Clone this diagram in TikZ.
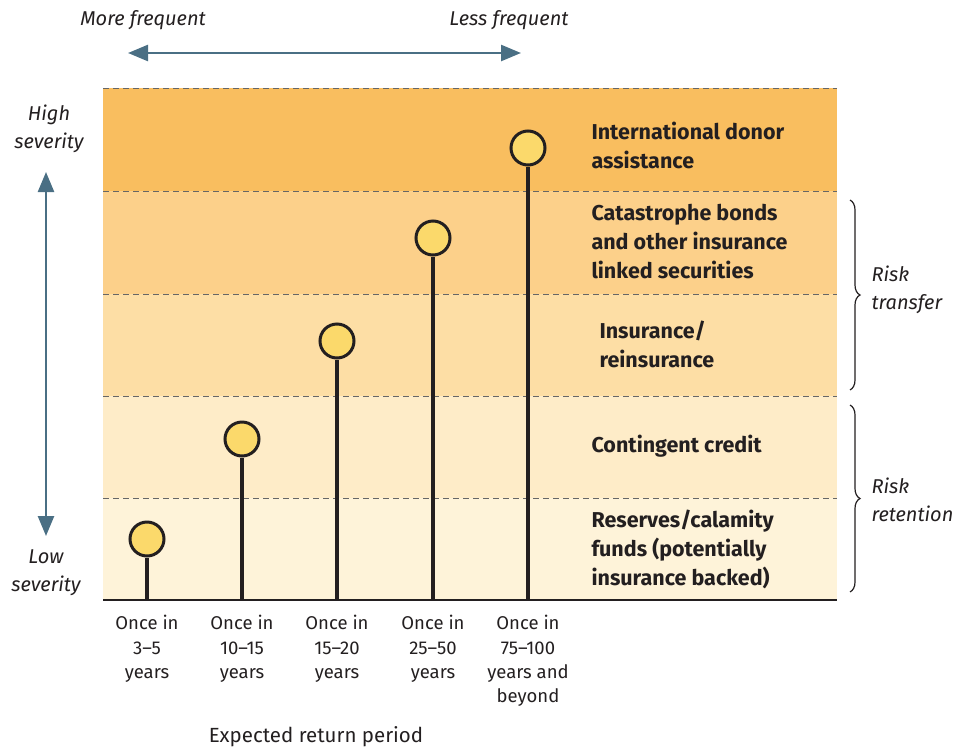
\documentclass[tikz,border=0pt]{standalone}
\usepackage{fontspec}
\setmainfont{Fira Sans}
\usetikzlibrary{arrows.meta,decorations.pathreplacing}
\definecolor{bandA}{RGB}{249,190,95}
\definecolor{bandB}{RGB}{252,208,138}
\definecolor{bandC}{RGB}{253,222,165}
\definecolor{bandD}{RGB}{254,236,200}
\definecolor{bandE}{RGB}{254,243,217}
\definecolor{ink}{RGB}{35,31,32}
\definecolor{bulbfill}{RGB}{251,217,107}
\definecolor{steel}{RGB}{74,111,132}
\tikzset{
	bandline/.style={draw=gray!80!black, dash pattern=on 6pt off 4pt, line width=0.8pt},
	stem/.style={draw=ink, line width=4pt},
	bulb/.style={circle, draw=ink, line width=3pt, fill=bulbfill, minimum size=34pt, inner sep=0pt},
	period/.style={align=center, anchor=north, text=ink, font=\fontsize{18.5}{24.3}\selectfont},
	tool/.style={align=left, anchor=west, text=ink, font=\bfseries\fontsize{21.5}{29}\selectfont},
	note/.style={align=left, text=ink, font=\itshape\fontsize{20}{28}\selectfont},
	axis/.style={draw=steel, line width=2.5pt, {Triangle[width=16pt,length=20pt]}-{Triangle[width=16pt,length=20pt]}},
	bracket/.style={draw=ink, line width=1.2pt, decorate, decoration={brace, amplitude=10pt}},
}
\begin{document}
\begin{tikzpicture}[x=1pt, y=-1pt]
	\useasboundingbox (0,0) rectangle (958,750);
	\fill[bandA] (103,88) rectangle (837,191);
	\fill[bandB] (103,191) rectangle (837,294);
	\fill[bandC] (103,294) rectangle (837,396);
	\fill[bandD] (103,396) rectangle (837,498);
	\fill[bandE] (103,498) rectangle (837,600);
	\draw[bandline] (103,88) -- (837,88);
	\draw[bandline] (103,191) -- (837,191);
	\draw[bandline] (103,294) -- (837,294);
	\draw[bandline] (103,396) -- (837,396);
	\draw[bandline] (103,498) -- (837,498);
	\coordinate (baseL) at (103,600);
	\coordinate (baseR) at (837,600);
	\draw[ink, line width=2pt] (baseL) -- (baseR);

	\node[bulb] (b1) at (147,539) {};
	\node[bulb] (b2) at (242,439) {};
	\node[bulb] (b3) at (337,341) {};
	\node[bulb] (b4) at (433,238) {};
	\node[bulb] (b5) at (528,148) {};
	\draw[stem] (b1.south) -- (b1 |- baseL);
	\draw[stem] (b2.south) -- (b2 |- baseL);
	\draw[stem] (b3.south) -- (b3 |- baseL);
	\draw[stem] (b4.south) -- (b4 |- baseL);
	\draw[stem] (b5.south) -- (b5 |- baseL);

	\node[period] (p1) at (147,612) {Once in\\3--5\\years};
	\node[period] (p2) at (242,612) {Once in\\10--15\\years};
	\node[period] (p3) at (337,612) {Once in\\15--20\\years};
	\node[period] (p4) at (433,612) {Once in\\25--50\\years};
	\node[period] (p5) at (528,612) {Once in\\75--100\\years and\\beyond};
	\node[period, anchor=center, font=\fontsize{20.5}{24}\selectfont] (xlabel) at (316,737) {Expected return period};

	\node[tool] (t5) at (588,145) {International donor\\assistance};
	\node[tool] (t4) at (588,242) {Catastrophe bonds\\and other insurance\\linked securities};
	\node[tool] (t3) at (596,344) {Insurance/\\reinsurance};
	\node[tool] (t2) at (588,446) {Contingent credit};
	\node[tool] (t1) at (588,549) {Reserves/calamity\\funds (potentially\\insurance backed)};

	\node[note] (more) at (143,20) {More frequent};
	\node[note] (less) at (509,20) {Less frequent};
	\coordinate (freqL) at (128,53);
	\coordinate (freqR) at (521,53);
	\draw[axis] (freqL) -- (freqR);

	\node[note, align=center] (high) at (49,129) {High\\severity};
	\node[note, align=center] (low) at (46,573) {Low\\severity};
	\coordinate (sevT) at (46,172);
	\coordinate (sevB) at (46,536);
	\draw[axis] (sevT) -- (sevB);

	\coordinate (trT) at (850,200);
	\coordinate (trB) at (850,390);
	\coordinate (reT) at (850,405);
	\coordinate (reB) at (850,592);
	\draw[bracket] (trT) -- (trB);
	\draw[bracket] (reT) -- (reB);
	\node[note, anchor=west] (transfer) at (868,290) {Risk\\transfer};
	\node[note, anchor=west] (retention) at (868,500) {Risk\\retention};
\end{tikzpicture}
\end{document}
